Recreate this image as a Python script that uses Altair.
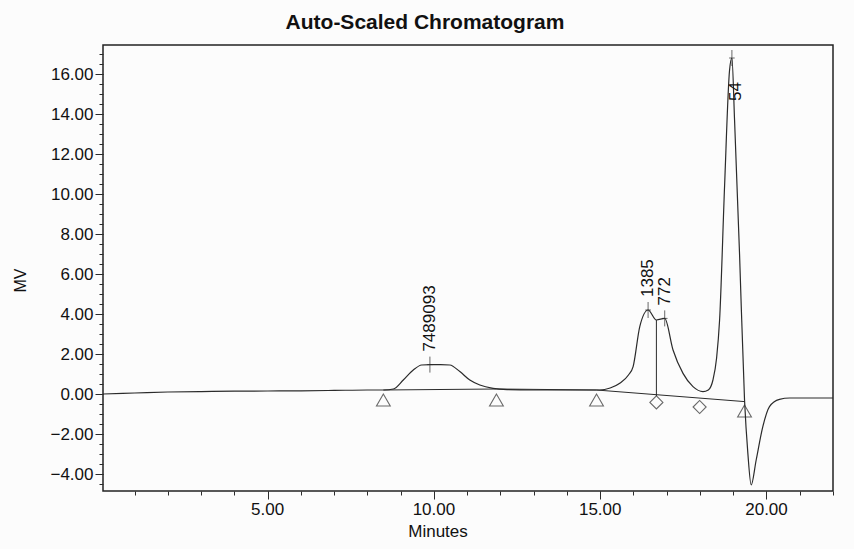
import altair as alt
import pandas as pd

# ---- data ----
curve_t = [0.05, 1, 2, 3, 4, 5, 6, 7, 8, 8.5, 8.78, 9.08, 9.38, 9.63, 9.9, 10.2, 10.48,
           10.78, 11.08, 11.38, 11.78, 12.2, 13, 14, 14.98, 15.3, 15.6, 15.85, 15.99, 16.19,
           16.44, 16.69, 16.94, 17.19, 17.49, 17.79, 18.09, 18.25, 18.39, 18.5, 18.59, 18.74,
           18.89, 18.96, 19.04, 19.19, 19.34, 19.44, 19.54, 19.69, 19.89, 20.09, 20.39, 20.7,
           21.2, 22.0]
curve_v = [0.0, 0.05, 0.1, 0.12, 0.14, 0.15, 0.16, 0.18, 0.2, 0.2, 0.25, 0.7, 1.2, 1.45,
           1.47, 1.47, 1.45, 1.12, 0.7, 0.45, 0.28, 0.22, 0.2, 0.2, 0.2, 0.3, 0.55, 0.95, 1.37,
           3.37, 4.2, 3.7, 3.78, 2.2, 1.03, 0.37, 0.12, 0.2, 0.7, 1.8, 3.7, 10.4, 16.2, 16.8,
           13.7, 7.0, -0.3, -2.97, -4.55, -3.3, -1.63, -0.63, -0.27, -0.2, -0.2, -0.2]

base_t = [8.48, 11.88, 14.89, 19.34]
base_v = [0.2, 0.25, 0.2, -0.38]

drop_t = [16.69]
drop_top = [3.7]
drop_bottom = [-0.1]

triangle_t = [8.48, 11.88, 14.89, 19.34]
triangle_v = [-0.3, -0.3, -0.3, -0.85]
diamond_t = [16.69, 17.99]
diamond_v = [-0.42, -0.65]

peak_t = [9.88, 16.44, 16.94, 18.96]
peak_v = [1.47, 4.2, 3.78, 16.8]
peak_labels = ["7489093", "1385", "772", "54"]

x_major = [5, 10, 15, 20]
x_major_labels = ["5.00", "10.00", "15.00", "20.00"]
x_minor = list(range(1, 23))
y_major = [-4, -2, 0, 2, 4, 6, 8, 10, 12, 14, 16]
y_minor = [i * 0.5 for i in range(-9, 35)]

x_title = ["Minutes"]

# ---- tables ----
df_curve = pd.DataFrame({"t": curve_t, "v": curve_v})
df_base = pd.DataFrame({"t": base_t, "v": base_v, "o": list(range(len(base_t)))})
df_drop = pd.DataFrame({"t": drop_t, "top": drop_top, "bottom": drop_bottom})
df_tri = pd.DataFrame({"t": triangle_t, "v": triangle_v})
df_dia = pd.DataFrame({"t": diamond_t, "v": diamond_v})
df_peak = pd.DataFrame({"t": peak_t, "v": peak_v, "label": peak_labels})
df_xlab = pd.DataFrame({"t": x_major, "txt": x_major_labels})
df_xtitle = pd.DataFrame({"txt": x_title})

FONT = "Liberation Sans"
INK = "#2b2b2b"

xscale = alt.Scale(domain=[0.05, 22.0], nice=False, zero=False)
yscale = alt.Scale(domain=[-4.85, 17.45], nice=False, zero=False)

x_major_axis = alt.Axis(values=x_major, title=None, tickSize=8, labels=False,
                        tickColor=INK, domain=False, grid=False, orient="bottom")
y_major_axis = alt.Axis(values=y_major, format=".2f", title=None, tickSize=8,
                        labelFontSize=17, labelFont=FONT, labelColor="#111",
                        labelPadding=2, labelOverlap=False, labelFlush=False,
                        labelBound=False, tickColor=INK, domain=False, grid=False,
                        orient="left")
x_minor_axis = alt.Axis(values=x_minor, labels=False, title=None, tickSize=4,
                        tickColor=INK, domain=False, grid=False, orient="bottom")
y_minor_axis = alt.Axis(values=y_minor, labels=False, title="MV", tickSize=4,
                        tickColor=INK, domain=False, grid=False, orient="left",
                        titleFont=FONT, titleFontSize=16, titleFontWeight="normal",
                        titleColor="#111", titleX=-75, titleY=235, titleAngle=270)

curve = alt.Chart(df_curve).mark_line(color=INK, strokeWidth=1.2, interpolate="monotone").encode(
    x=alt.X("t:Q", scale=xscale, axis=x_major_axis),
    y=alt.Y("v:Q", scale=yscale, axis=y_major_axis),
)

minor = alt.Chart(df_curve).mark_point(opacity=0).encode(
    x=alt.X("t:Q", scale=xscale, axis=x_minor_axis),
    y=alt.Y("v:Q", scale=yscale, axis=y_minor_axis),
)

baseline = alt.Chart(df_base).mark_line(color=INK, strokeWidth=1).encode(
    x=alt.X("t:Q", scale=xscale, axis=None),
    y=alt.Y("v:Q", scale=yscale, axis=None),
    order="o:Q",
)

drop = alt.Chart(df_drop).mark_rule(color=INK, strokeWidth=1).encode(
    x=alt.X("t:Q", scale=xscale, axis=None),
    y=alt.Y("top:Q", scale=yscale, axis=None),
    y2="bottom:Q",
)

tri = alt.Chart(df_tri).mark_point(shape="triangle-up", filled=False, color=INK,
                                   size=190, strokeWidth=1.1).encode(
    x=alt.X("t:Q", scale=xscale, axis=None),
    y=alt.Y("v:Q", scale=yscale, axis=None),
)

dia = alt.Chart(df_dia).mark_point(shape="diamond", filled=False, color=INK,
                                   size=170, strokeWidth=1.1).encode(
    x=alt.X("t:Q", scale=xscale, axis=None),
    y=alt.Y("v:Q", scale=yscale, axis=None),
)

plus = alt.Chart(df_peak).mark_point(shape="M0,-1L0,1M-0.35,0L0.35,0", filled=False,
                                     color=INK, size=256, strokeWidth=1).encode(
    x=alt.X("t:Q", scale=xscale, axis=None),
    y=alt.Y("v:Q", scale=yscale, axis=None),
)

labels_low = alt.Chart(df_peak).transform_filter(
    alt.datum.label != "54"
).mark_text(angle=270, align="left", baseline="middle", dx=13, font=FONT,
            fontSize=17, color="#111").encode(
    x=alt.X("t:Q", scale=xscale, axis=None),
    y=alt.Y("v:Q", scale=yscale, axis=None),
    text="label:N",
)

labels_top = alt.Chart(df_peak).transform_filter(
    alt.datum.label == "54"
).mark_text(angle=270, align="left", baseline="middle", dx=-43, dy=4, font=FONT,
            fontSize=17, color="#111").encode(
    x=alt.X("t:Q", scale=xscale, axis=None),
    y=alt.Y("v:Q", scale=yscale, axis=None),
    text="label:N",
)

# x tick labels, positioned by the x scale just below the axis
xlabels = alt.Chart(df_xlab).mark_text(font=FONT, fontSize=17, color="#111",
                                       align="center", baseline="top").encode(
    x=alt.X("t:Q", scale=xscale, axis=None),
    y=alt.value(457),
    text="txt:N",
)

# axis title for x, placed below the tick labels
xtitle = alt.Chart(df_xtitle).mark_text(font=FONT, fontSize=17, color="#111",
                                        align="center", baseline="alphabetic").encode(
    x=alt.value(335), y=alt.value(492), text="txt:N"
)

chart = alt.layer(
    minor, curve, baseline, drop, tri, dia, plus, labels_low, labels_top, xlabels, xtitle
).resolve_axis(
    x="independent", y="independent"
).properties(
    width=730,
    height=446,
    autosize="none",
    padding={"left": 103, "top": 45, "right": 21, "bottom": 58},
    background="#fcfcfc",
    title=alt.TitleParams("Auto-Scaled Chromatogram", font=FONT, fontSize=21,
                          fontWeight="bold", color="#111", anchor="middle",
                          dx=-43, offset=12),
).configure_view(
    stroke="#222", strokeWidth=1.5, clip=False
)

chart.save("out.html", embed_options={"renderer": "svg", "actions": False})
